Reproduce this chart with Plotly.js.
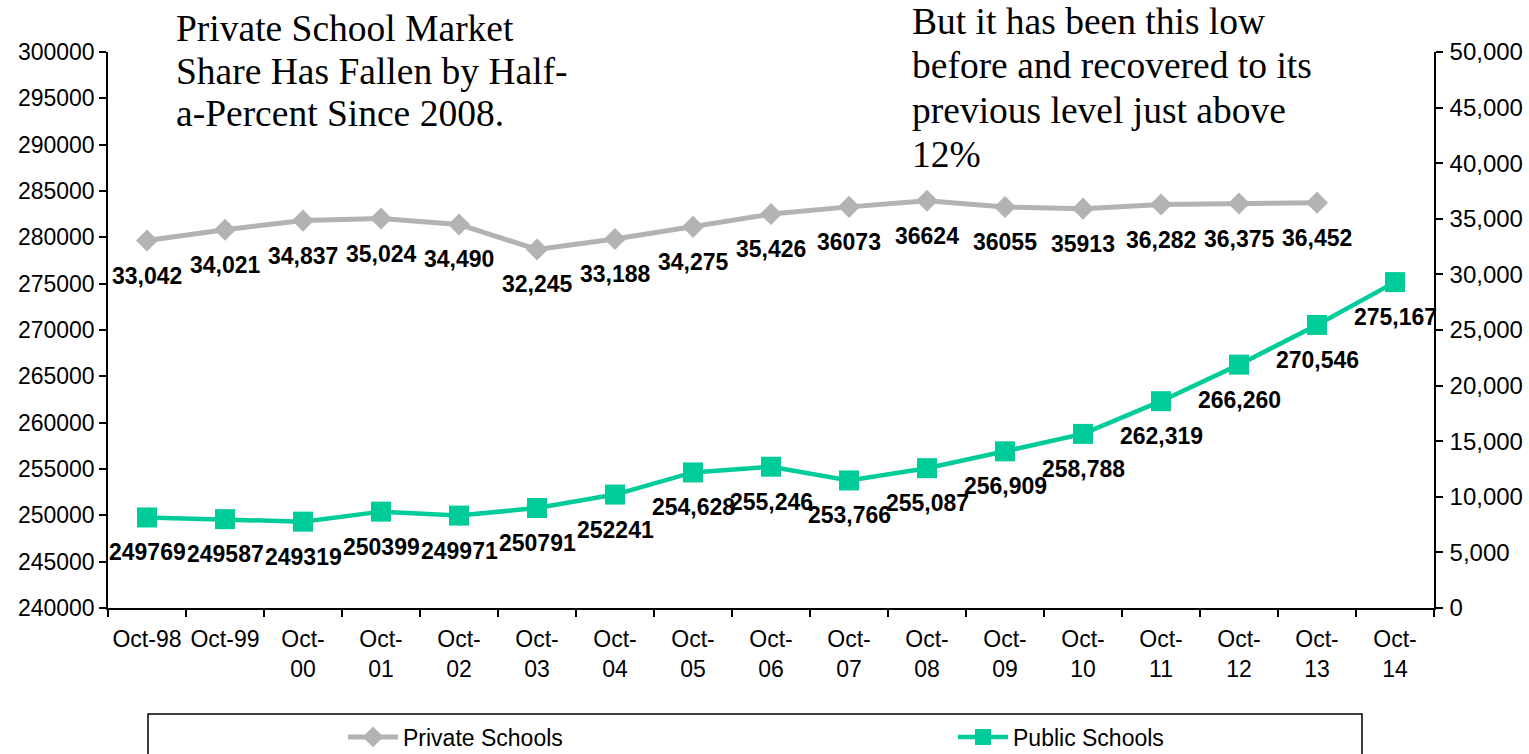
<!DOCTYPE html>
<html>
<head>
<meta charset="utf-8">
<script src="https://cdn.plot.ly/plotly-3.0.1.min.js"></script>
<style>
  body { margin: 0; background: #fff; }
  #chart { width: 1529px; height: 754px; }
</style>
</head>
<body>
<div id="chart"></div>
<script>
var months = ["Oct-98","Oct-99","Oct-00","Oct-01","Oct-02","Oct-03","Oct-04","Oct-05","Oct-06",
  "Oct-07","Oct-08","Oct-09","Oct-10","Oct-11","Oct-12","Oct-13","Oct-14"];
var monthTicks = ["Oct-98","Oct-99","Oct-<br>00","Oct-<br>01","Oct-<br>02","Oct-<br>03","Oct-<br>04",
  "Oct-<br>05","Oct-<br>06","Oct-<br>07","Oct-<br>08","Oct-<br>09","Oct-<br>10","Oct-<br>11",
  "Oct-<br>12","Oct-<br>13","Oct-<br>14"];

var privateSchools = [33042, 34021, 34837, 35024, 34490, 32245, 33188, 34275, 35426,
  36073, 36624, 36055, 35913, 36282, 36375, 36452];
var privateLabels = ["33,042","34,021","34,837","35,024","34,490","32,245","33,188","34,275","35,426",
  "36073","36624","36055","35913","36,282","36,375","36,452"];

var publicSchools = [249769, 249587, 249319, 250399, 249971, 250791, 252241, 254628, 255246,
  253766, 255087, 256909, 258788, 262319, 266260, 270546, 275167];
var publicLabels = ["249769","249587","249319","250399","249971","250791","252241","254,628","255,246",
  "253,766","255,087","256,909","258,788","262,319","266,260","270,546","275,167"];

var leftNote = ["Private School Market", "Share Has Fallen by Half-", "a-Percent Since 2008."];
var rightNote = ["But it has been this low", "before and recovered to its",
  "previous level just above", "12%"];

var gray = "#b3b3b3";
var green = "#00cc99";

// plot area in px: x 108..1434, y 52..608
function px(x) { return (x - 108) / 1326; }
function py(y) { return (608 - y) / 556; }

var privateTrace = {
  x: months.slice(0, privateSchools.length),
  y: privateSchools,
  yaxis: "y2",
  name: "Private Schools",
  type: "scatter",
  mode: "lines+markers",
  line: {color: gray, width: 5},
  marker: {symbol: "diamond", size: 17, color: gray},
  legend: "legend"
};

var publicTrace = {
  x: months,
  y: publicSchools,
  name: "Public Schools",
  type: "scatter",
  mode: "lines+markers",
  line: {color: green, width: 4.5},
  marker: {symbol: "square", size: 20, color: green},
  legend: "legend2"
};

// data labels sit ~35px under each point
var labelFont = {family: "Arial, Liberation Sans, sans-serif", size: 23, color: "#000"};
var annotations = [];
privateSchools.forEach(function(v, i) {
  annotations.push({x: months[i], y: v, yref: "y2", text: "<b>" + privateLabels[i] + "</b>",
    showarrow: false, yshift: -35, font: labelFont});
});
publicSchools.forEach(function(v, i) {
  annotations.push({x: months[i], y: v, yref: "y", text: "<b>" + publicLabels[i] + "</b>",
    showarrow: false, yshift: -35, font: labelFont});
});

// notes, one annotation per line to keep the tight line spacing
var noteFont = {family: "Times New Roman, Liberation Serif, serif", size: 37.5, color: "#000"};
leftNote.forEach(function(t, i) {
  annotations.push({xref: "paper", yref: "paper", x: px(174), y: py(28 + i * 43),
    xanchor: "left", yanchor: "middle", text: t, showarrow: false, font: noteFont});
});
rightNote.forEach(function(t, i) {
  annotations.push({xref: "paper", yref: "paper", x: px(910), y: py(22 + i * 44),
    xanchor: "left", yanchor: "middle", text: t, showarrow: false, font: noteFont});
});

var tickFont = {family: "Arial, Liberation Sans, sans-serif", size: 23, color: "#000"};
var rightTickFont = {family: "Arial, Liberation Sans, sans-serif", size: 24, color: "#000"};
var legendFont = {family: "Arial, Liberation Sans, sans-serif", size: 23, color: "#000"};

var layout = {
  width: 1529,
  height: 754,
  margin: {l: 108, r: 95, t: 52, b: 146, autoexpand: false},
  paper_bgcolor: "#fff",
  plot_bgcolor: "#fff",
  showlegend: true,
  xaxis: {
    type: "category",
    range: [-0.5, 16.5],
    tickvals: months,
    ticktext: monthTicks,
    tickangle: 0,
    tickson: "boundaries",
    ticks: "outside",
    ticklen: 7,
    tickwidth: 1.5,
    tickcolor: "#000",
    ticklabelstandoff: 10,
    showline: true,
    linecolor: "#000",
    linewidth: 1.5,
    showgrid: false,
    zeroline: false,
    automargin: false,
    tickfont: tickFont
  },
  yaxis: {
    range: [240000, 300000],
    dtick: 5000,
    tickformat: "d",
    ticks: "outside",
    ticklen: 7,
    tickwidth: 1.5,
    tickcolor: "#000",
    showline: true,
    linecolor: "#000",
    linewidth: 1.5,
    showgrid: false,
    zeroline: false,
    automargin: false,
    tickfont: tickFont
  },
  yaxis2: {
    overlaying: "y",
    side: "right",
    range: [0, 50000],
    dtick: 5000,
    tickformat: ",d",
    ticks: "outside",
    ticklen: 7,
    tickwidth: 1.5,
    tickcolor: "#000",
    ticklabelstandoff: 2,
    showline: true,
    linecolor: "#000",
    linewidth: 1.5,
    showgrid: false,
    zeroline: false,
    automargin: false,
    tickfont: rightTickFont
  },
  legend: {
    x: px(343), y: py(737), xanchor: "left", yanchor: "middle",
    orientation: "h", itemwidth: 50, font: legendFont, bgcolor: "rgba(0,0,0,0)"
  },
  legend2: {
    x: px(953), y: py(737), xanchor: "left", yanchor: "middle",
    orientation: "h", itemwidth: 50, font: legendFont, bgcolor: "rgba(0,0,0,0)"
  },
  shapes: [{
    type: "rect", xref: "paper", yref: "paper",
    x0: px(148), x1: px(1362), y0: py(714), y1: py(762),
    line: {color: "#000", width: 1.5}
  }],
  annotations: annotations
};

Plotly.newPlot("chart", [privateTrace, publicTrace], layout, {displayModeBar: false});
</script>
</body>
</html>
